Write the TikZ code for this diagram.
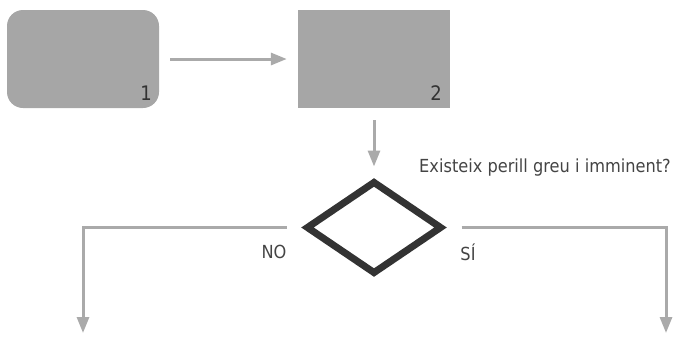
\documentclass[tikz,border=0pt]{standalone}
\usepackage{fontspec}
\setmainfont{DejaVu Sans}[FakeStretch=0.9]
\usetikzlibrary{arrows.meta,shapes.geometric}
\definecolor{boxgray}{HTML}{A6A6A6}
\definecolor{linegray}{HTML}{AAAAAA}
\definecolor{darkline}{HTML}{333333}
\definecolor{txtgray}{HTML}{444444}
\definecolor{numgray}{HTML}{333333}
\tikzset{
  boxshape/.style={fill=boxgray, draw=none, minimum width=152pt, minimum height=98pt, inner sep=0pt},
  arr/.style={draw=linegray, line width=3pt, -{Triangle[length=16pt,width=12pt]}},
  decision/.style={diamond, draw=darkline, line width=7pt, minimum width=136pt, minimum height=93pt, inner sep=0pt},
  txt/.style={text=txtgray, font=\fontsize{18}{20}\selectfont, inner sep=0pt},
  num/.style={text=numgray, font=\fontsize{20}{22}\selectfont, inner sep=0pt},
}
\begin{document}
\begin{tikzpicture}[x=1pt,y=-1pt]
\useasboundingbox (0,0) rectangle (679,338);
\node[boxshape, rounded corners=16pt] (b1) at (83,59) {};
\node[boxshape] (b2) at (374,59) {};
\node[num] (n1) at (146,93.5) {1};
\node[num] (n2) at (436,93.5) {2};
\node[decision] (d) at (374,227.5) {};
\node[txt] (q) at (545,168) {Existeix perill greu i imminent?};
\node[txt] (no) at (274,252) {NO};
\node[txt] (si) at (468,252) {SÍ};
\coordinate (endl) at (83,333);
\coordinate (endr) at (666,333);
\draw[arr, shorten <=11pt, shorten >=11pt] (b1.east) -- (b2.west);
\draw[arr, shorten <=12pt, shorten >=11pt] (b2.south) -- (d.north);
\draw[arr, shorten <=16pt] (d.west) -| (endl);
\draw[arr, shorten <=16pt] (d.east) -| (endr);
\end{tikzpicture}
\end{document}
